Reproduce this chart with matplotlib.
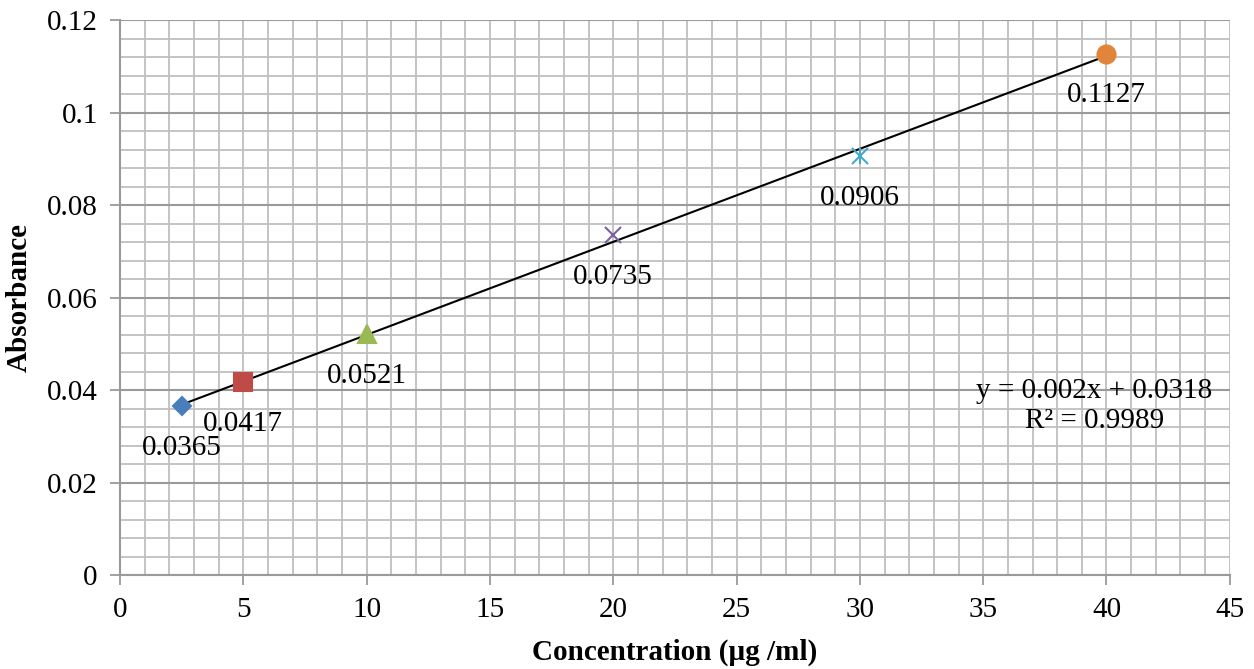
import numpy as np
import matplotlib.pyplot as plt
from matplotlib.ticker import MultipleLocator

# --- Data ---
conc = [2.5, 5, 10, 20, 30, 40]
absorb = [0.0365, 0.0417, 0.0521, 0.0735, 0.0906, 0.1127]
labels = ['0.0365', '0.0417', '0.0521', '0.0735', '0.0906', '0.1127']
markers = ['D', 's', '^', 'x', 'x', 'o']
colors = ['#4a7ebb', '#be4b48', '#98b954', '#7d60a0', '#46aac5', '#e0853a']
sizes = [9, 13, 13, 12, 12, 13]
equation = 'y = 0.002x + 0.0318\nR² = 0.9989'

plt.rcParams['font.family'] = ['Liberation Serif', 'DejaVu Serif']

fig = plt.figure(figsize=(12.54, 6.69), dpi=100)
ax = fig.add_axes([0.0957, 0.1405, 0.885, 0.8295])

ax.set_xlim(0, 45)
ax.set_ylim(0, 0.12)
ax.xaxis.set_major_locator(MultipleLocator(5))
ax.xaxis.set_minor_locator(MultipleLocator(1))
ax.yaxis.set_major_locator(MultipleLocator(0.02))
ax.yaxis.set_minor_locator(MultipleLocator(0.004))
ax.grid(which='minor', color='#bfbfbf', linewidth=1.3)
ax.xaxis.grid(which='major', color='#bfbfbf', linewidth=1.3)
ax.yaxis.grid(which='major', color='#9a9a9a', linewidth=1.5)
ax.set_axisbelow(True)
ax.tick_params(which='minor', length=0)
ax.tick_params(which='major', length=7, width=1.3, color='#9a9a9a', labelsize=21, pad=9)
ax.set_yticks([0, 0.02, 0.04, 0.06, 0.08, 0.1, 0.12])
ax.set_yticklabels(['0', '0.02', '0.04', '0.06', '0.08', '0.1', '0.12'])
for s in ax.spines.values():
    s.set_color('#9a9a9a')
    s.set_linewidth(1.5)
ax.spines['top'].set_visible(False)
ax.spines['right'].set_visible(False)

# trendline
slope, intercept = np.polyfit(conc, absorb, 1)
xs = np.array([conc[0], conc[-1]])
ax.plot(xs, slope * xs + intercept, color='black', linewidth=1.5, zorder=3)

for i in range(len(conc)):
    ax.plot(conc[i], absorb[i], marker=markers[i], color=colors[i], markersize=sizes[i],
            markeredgewidth=1.5, linestyle='none', zorder=4)
    if i == 4:
        ax.plot(conc[i], absorb[i], marker='|', color=colors[i], markersize=12,
                markeredgewidth=1.5, linestyle='none', zorder=4)
    ax.annotate(labels[i], (conc[i], absorb[i]), xytext=(0, -30), textcoords='offset points',
                ha='center', va='center', fontsize=21)

ax.text(39.5, 0.0366, equation, ha='center', va='center', fontsize=21, linespacing=1.2)

ax.set_xlabel('Concentration (µg /ml)', fontsize=21, fontweight='bold', labelpad=11)
ax.set_ylabel('Absorbance', fontsize=21, fontweight='bold', labelpad=10)

fig.savefig('out.png', dpi=100)
